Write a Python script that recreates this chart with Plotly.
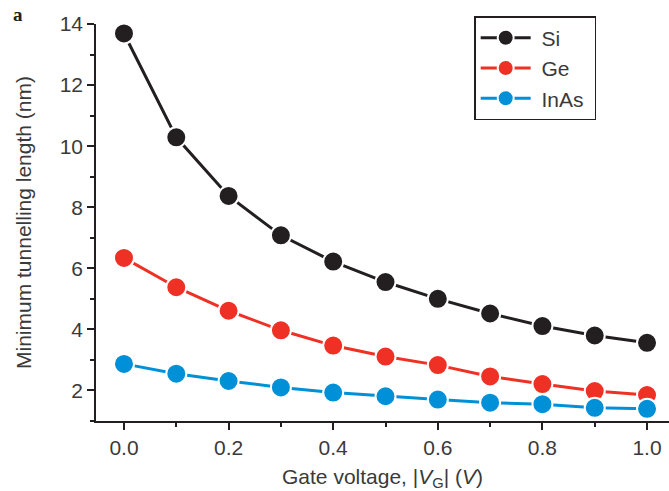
import plotly.graph_objects as go

voltage = [0.0, 0.1, 0.2, 0.3, 0.4, 0.5, 0.6, 0.7, 0.8, 0.9, 1.0]
si = [13.69, 10.29, 8.37, 7.08, 6.22, 5.55, 5.0, 4.52, 4.11, 3.80, 3.56]
ge = [6.34, 5.38, 4.61, 3.97, 3.47, 3.11, 2.83, 2.46, 2.21, 1.98, 1.85]
inas = [2.87, 2.55, 2.31, 2.10, 1.93, 1.81, 1.70, 1.60, 1.55, 1.43, 1.40]

series = [("Si", si, "#231f20"), ("Ge", ge, "#ee3124"), ("InAs", inas, "#0090d7")]

FONT = "Liberation Sans, Arial, sans-serif"
TXT = "#3a3a3a"

fig = go.Figure()
for name, vals, col in series:
    fig.add_trace(go.Scatter(
        x=voltage, y=vals, name="\u00a0" + name + "\u00a0", mode="lines+markers",
        line=dict(color=col, width=3),
        marker=dict(size=20, color=col, line=dict(color="white", width=2)),
    ))

fig.update_layout(
    width=669, height=491,
    margin=dict(l=96, r=0, t=24, b=70),
    paper_bgcolor="white", plot_bgcolor="white",
    font=dict(family=FONT, size=20, color=TXT),
    showlegend=True,
    legend=dict(
        x=0.66, y=1.02, xanchor="left", yanchor="top",
        bordercolor="#231f20", borderwidth=1.5, bgcolor="white",
        font=dict(family=FONT, size=21, color=TXT),
        itemwidth=50,
    ),
    xaxis=dict(
        range=[-0.0535, 1.042], showgrid=False, zeroline=False, automargin=False,
        showline=True, linecolor="#231f20", linewidth=1.5,
        ticks="outside", ticklen=7, tickwidth=1.5, tickcolor="#231f20",
        tickvals=[0.0, 0.2, 0.4, 0.6, 0.8, 1.0], ticktext=["0.0", "0.2", "0.4", "0.6", "0.8", "1.0"],
        minor=dict(tickvals=[0.1, 0.3, 0.5, 0.7, 0.9], ticks="outside", ticklen=4, tickwidth=1.5, tickcolor="#231f20"),
        tickfont=dict(family=FONT, size=21, color=TXT),
        title=dict(text="Gate voltage, |<i>V</i><sub>G</sub>| (<i>V</i>)", font=dict(family=FONT, size=21, color=TXT), standoff=12),
    ),
    yaxis=dict(
        range=[1.0, 14.0], showgrid=False, zeroline=False, automargin=False,
        showline=True, linecolor="#231f20", linewidth=1.5,
        ticks="outside", ticklen=7, tickwidth=1.5, tickcolor="#231f20",
        tickvals=[2, 4, 6, 8, 10, 12, 14],
        minor=dict(tickvals=[1, 3, 5, 7, 9, 11, 13], ticks="outside", ticklen=4, tickwidth=1.5, tickcolor="#231f20"),
        tickfont=dict(family=FONT, size=21, color=TXT),
        title=dict(text="Minimum tunnelling length (nm)", font=dict(family=FONT, size=21, color=TXT), standoff=22),
    ),
)

fig.add_annotation(
    text="<b>a</b>", xref="paper", yref="paper", x=-0.136, y=1.025,
    xanchor="center", yanchor="middle", showarrow=False,
    font=dict(family="Liberation Serif, DejaVu Serif, serif", size=19, color="#231f20"),
)

fig.write_html("out.html")
